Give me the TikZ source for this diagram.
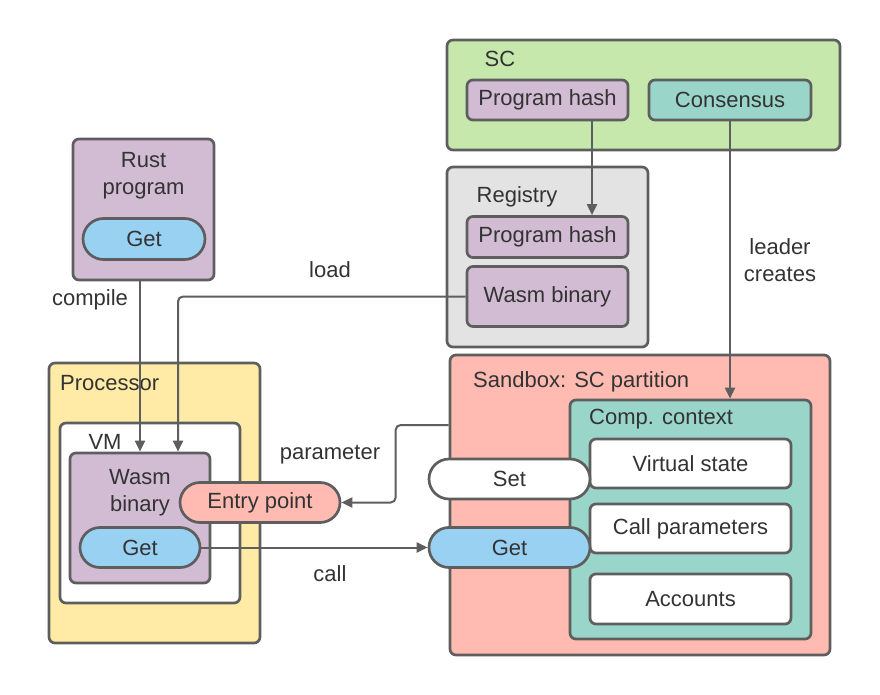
\documentclass[tikz,border=0pt]{standalone}
\usepackage{fontspec}
\setmainfont{Liberation Sans}
\usetikzlibrary{arrows.meta,shapes.misc,calc}
\definecolor{strk}{HTML}{5E5E5E}
\definecolor{txt}{HTML}{333333}
\definecolor{purp}{HTML}{D2BCD3}
\definecolor{lblue}{HTML}{99D1F2}
\definecolor{lgreen}{HTML}{C7E8AC}
\definecolor{teal}{HTML}{9AD5CA}
\definecolor{lgray}{HTML}{E3E3E3}
\definecolor{salmon}{HTML}{FFBAB1}
\definecolor{lyellow}{HTML}{FFEBA6}
\tikzset{
  box/.style={draw=strk, line width=2.7pt, rounded corners=6pt, inner sep=0pt, text=txt,
    font=\fontsize{22}{27}\selectfont, align=center},
  pill/.style={draw=strk, line width=2.7pt, rounded rectangle, inner sep=0pt, text=txt,
    font=\fontsize{22}{27}\selectfont, minimum height=40pt},
  lbl/.style={text=txt, font=\fontsize{22}{27}\selectfont, inner sep=0pt, align=center},
  arr/.style={draw=strk, line width=2pt, -{Triangle[length=11pt,width=10pt]}},
  ln/.style={draw=strk, line width=2pt},
}
\begin{document}
\begin{tikzpicture}[x=1pt,y=-1pt]
\useasboundingbox (0,0) rectangle (880,695);
% SC
\node[box, fill=lgreen, minimum width=393pt, minimum height=110pt] (SC) at (643.5,95) {};
\node[lbl] (SCl) at (500,59) {SC};
\node[box, fill=purp, minimum width=161pt, minimum height=40pt] (SCph) at (547.5,100) {Program hash};
\node[box, fill=teal, minimum width=162pt, minimum height=40pt] (Cons) at (730,100) {Consensus};
% Registry
\node[box, fill=lgray, minimum width=201pt, minimum height=180pt] (Reg) at (547.5,257) {};
\node[lbl] (Regl) at (517,197) {Registry};
\node[box, fill=purp, minimum width=161pt, minimum height=41pt] (Regph) at (547.5,237) {Program hash};
\node[box, fill=purp, minimum width=161pt, minimum height=60pt] (RegW) at (547.5,296.5) {Wasm binary};
% Sandbox
\node[box, fill=salmon, minimum width=380pt, minimum height=300pt] (Sand) at (640,505) {};
\node[lbl, anchor=west] (Sandl) at (473,382) {Sandbox: SC partition};
\node[box, fill=teal, minimum width=241pt, minimum height=239pt] (Comp) at (690.5,519.5) {};
\node[lbl, anchor=west] (Compl) at (589,419) {Comp. context};
\node[box, fill=white, minimum width=201pt, minimum height=49pt] (VS) at (690.5,463.5) {Virtual state};
\node[box, fill=white, minimum width=201pt, minimum height=49pt] (CP) at (690.5,528.5) {Call parameters};
\node[box, fill=white, minimum width=201pt, minimum height=50pt] (Acc) at (690.5,599) {Accounts};
\node[pill, fill=white, minimum width=161pt] (Set) at (509.5,479) {Set};
\node[pill, fill=lblue, minimum width=161pt] (GetS) at (509.5,547.5) {Get};
% Processor
\node[box, fill=lyellow, minimum width=211pt, minimum height=280pt] (Proc) at (154.5,503) {};
\node[lbl, anchor=west] (Procl) at (60,383) {Processor};
\node[box, fill=white, minimum width=180pt, minimum height=180pt] (VM) at (150,513) {};
\node[lbl] (VMl) at (105,442) {VM};
\node[box, fill=purp, minimum width=140pt, minimum height=130pt] (WasmP) at (140,518) {};
\node[lbl] (WasmPl) at (140,493) {Wasm\\binary};
\node[pill, fill=lblue, minimum width=120pt] (GetW) at (140,547.5) {Get};
\node[pill, fill=salmon, minimum width=160pt] (Entry) at (260,502.5) {Entry point};
% Rust program
\node[box, fill=purp, minimum width=141pt, minimum height=141pt] (Rust) at (143.5,209.5) {};
\node[lbl] (Rustl) at (143.5,176) {Rust\\program};
\node[pill, fill=lblue, minimum width=122pt, minimum height=41pt] (GetR) at (144,239) {Get};
% labels
\node[lbl] (leader) at (780,260) {leader\\creates};
\node[lbl] (load) at (330,270) {load};
\node[lbl] (compile) at (90,300) {compile};
\node[lbl] (param) at (330,455) {parameter};
\node[lbl] (call) at (330,574) {call};
% connectors
\draw[arr] ([xshift=44.5pt]SCph.south) -- ([xshift=44.5pt]Regph.north);
\draw[arr] (Cons.south) -- (Cons.south |- Comp.north);
\draw[arr] (Rust.south -| WasmP.north) -- (WasmP.north);
\draw[arr, rounded corners=5pt] (RegW.west) -| ([xshift=38pt]WasmP.north);
\draw[arr, rounded corners=5pt] ([yshift=80pt]Sand.west) -- ++(-53,0) |- (Entry.east);
\draw[arr] (GetW.east) -- (GetS.west);
\end{tikzpicture}
\end{document}
